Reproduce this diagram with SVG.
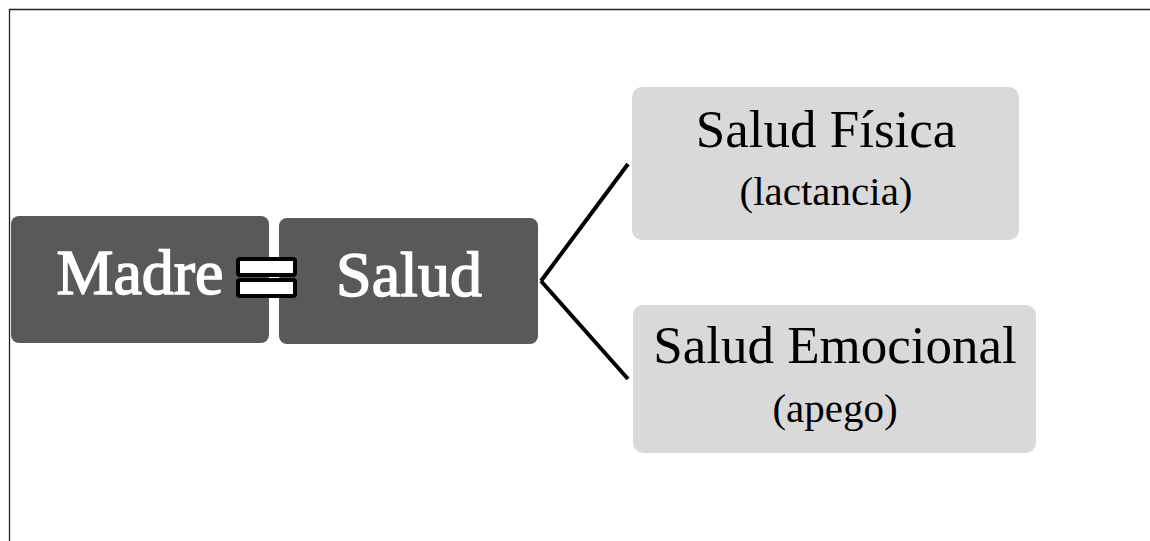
<svg xmlns="http://www.w3.org/2000/svg" width="1150" height="541" viewBox="0 0 1150 541">
<style>
.dark{fill:#595959}
.light{fill:#d9d9d9}
.wt{font-family:"Liberation Serif","Times New Roman",serif;fill:#ffffff;stroke:#ffffff;stroke-width:1.5;font-size:64px;text-anchor:middle}
.bt{font-family:"Liberation Serif","Times New Roman",serif;fill:#000000;text-anchor:middle}
.big{font-size:53px}
.small{font-size:41px}
.eq{fill:#ffffff;stroke:#000000;stroke-width:4}
.conn{stroke:#000000;stroke-width:4;fill:none}
</style>
<rect x="0" y="0" width="1150" height="541" fill="#ffffff"/>
<path d="M9.5 541 V9.5 H1150" fill="none" stroke="#222222" stroke-width="1.3"/>
<g id="connectors">
<line class="conn" x1="541" y1="281" x2="628" y2="164"/>
<line class="conn" x1="541" y1="281" x2="628" y2="379"/>
</g>
<g id="madre">
<rect class="dark" x="11" y="216" width="258" height="127" rx="8"/>
<text class="wt" x="140" y="294">Madre</text>
</g>
<g id="salud">
<rect class="dark" x="279" y="218" width="259" height="126" rx="8"/>
<text class="wt" x="409" y="296">Salud</text>
</g>
<g id="equals">
<rect class="eq" x="238" y="259" width="57" height="16" rx="2"/>
<rect class="eq" x="238" y="280" width="57" height="16" rx="2"/>
</g>
<g id="fisica">
<rect class="light" x="632" y="87" width="387" height="153" rx="10"/>
<text class="bt big" x="826" y="147">Salud Física</text>
<text class="bt small" x="826" y="205">(lactancia)</text>
</g>
<g id="emocional">
<rect class="light" x="633" y="305" width="403" height="148" rx="10"/>
<text class="bt big" x="835" y="363">Salud Emocional</text>
<text class="bt small" x="835" y="422">(apego)</text>
</g>
</svg>
